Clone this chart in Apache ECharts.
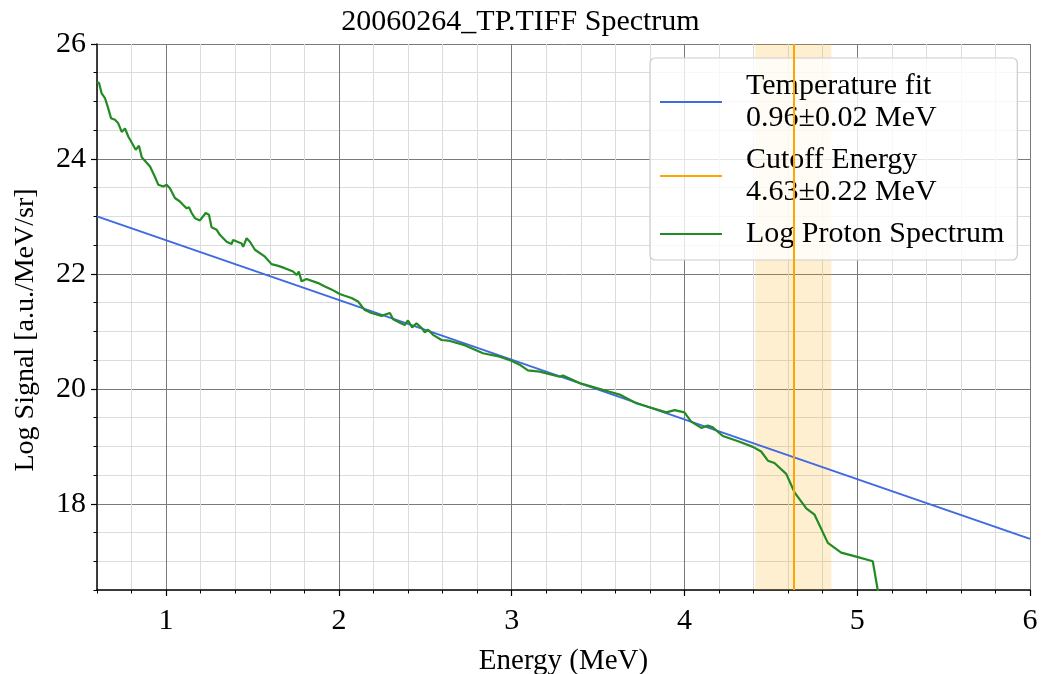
<!DOCTYPE html>
<html><head><meta charset="utf-8">
<script src="https://cdn.jsdelivr.net/npm/echarts@6/dist/echarts.min.js"></script>
<style>html,body{margin:0;padding:0;background:#fff}#c{width:1041px;height:674px}</style>
</head><body><div id="c"></div>
<script>
const energy = [
  0.600,0.612,0.627,0.646,0.665,0.681,0.704,0.723,0.743,0.762,
  0.781,0.804,0.824,0.843,0.859,0.907,0.935,0.955,0.984,1.003,
  1.022,1.051,1.080,1.099,1.119,1.132,1.148,1.167,1.196,1.229,
  1.248,1.263,1.292,1.311,1.350,1.359,1.379,1.388,1.437,1.446,
  1.466,1.485,1.514,1.572,1.610,1.649,1.687,1.735,1.745,1.755,
  1.768,1.784,1.813,1.880,1.919,1.957,2.005,2.034,2.073,2.111,
  2.150,2.189,2.247,2.295,2.314,2.353,2.381,2.400,2.424,2.449,
  2.482,2.497,2.516,2.545,2.594,2.632,2.728,2.834,2.931,2.998,
  3.046,3.094,3.162,3.278,3.297,3.393,3.567,3.625,3.721,3.895,
  3.943,4.000,4.039,4.097,4.135,4.164,4.222,4.319,4.396,4.444,
  4.483,4.521,4.589,4.637,4.705,4.753,4.830,4.907,4.994,5.090,
  5.136];
const signal = [
  25.34,25.32,25.14,25.06,24.88,24.71,24.68,24.62,24.47,24.53,
  24.39,24.27,24.16,24.23,24.03,23.87,23.69,23.55,23.52,23.55,
  23.49,23.32,23.26,23.20,23.14,23.16,23.06,22.97,22.93,23.06,
  23.03,22.81,22.77,22.68,22.56,22.59,22.52,22.59,22.53,22.47,
  22.62,22.56,22.42,22.30,22.17,22.14,22.10,22.04,22.07,21.98,
  22.04,21.87,21.91,21.84,21.78,21.73,21.65,21.62,21.58,21.52,
  21.37,21.32,21.27,21.32,21.21,21.15,21.11,21.19,21.07,21.14,
  21.05,20.98,21.03,20.94,20.85,20.84,20.76,20.62,20.56,20.49,
  20.42,20.32,20.30,20.21,20.23,20.10,19.95,19.90,19.75,19.59,
  19.63,19.59,19.43,19.32,19.36,19.33,19.18,19.08,18.99,18.91,
  18.75,18.71,18.52,18.20,17.92,17.81,17.32,17.15,17.08,17.00,
  16.20];
const fitEnergy = [0.6, 6.0];
const fitSignal = [23.0, 17.39];
const cutoff = 4.63, cutoffErr = 0.22;
const xMajor = [1,2,3,4,5,6];
const xMinor = [0.6,0.8,1.2,1.4,1.6,1.8,2.2,2.4,2.6,2.8,3.2,3.4,3.6,3.8,4.2,4.4,4.6,4.8,5.2,5.4,5.6,5.8];
const yMajor = [18,20,22,24,26];
const yMinor = [16.5,17,17.5,18.5,19,19.5,20.5,21,21.5,22.5,23,23.5,24.5,25,25.5];
const names = ['Temperature fit\n0.96±0.02 MeV','Cutoff Energy\n4.63±0.22 MeV','Log Proton Spectrum'];

const FONT = 'Liberation Serif';
const X0 = 0.6, X1 = 6, Y0 = 16.5, Y1 = 26;
const chart = echarts.init(document.getElementById('c'), null, {renderer:'canvas'});
const spec = energy.map((e,i)=>[e, signal[i]]);
const fit = fitEnergy.map((e,i)=>[e, fitSignal[i]]);
function majorAxis(pos, ticks, extra){
  return Object.assign({
    type:'value', position:pos, min: pos==='bottom'?X0:Y0, max: pos==='bottom'?X1:Y1,
    axisLine:{show:true, onZero:false, lineStyle:{color:'#000', width:1.5}},
    axisTick:{show:true, customValues:ticks, length:6, lineStyle:{color:'#000', width:1.2}},
    axisLabel:{customValues:ticks, fontFamily:FONT, fontSize:30, color:'#000', margin: pos==='bottom'?16:11},
    splitLine:{show:true, lineStyle:{color:'#7a7a7a', width:1}},
    nameTextStyle:{fontFamily:FONT, fontSize:29, color:'#000'}
  }, extra);
}
function minorAxis(pos, ticks){
  return {
    type:'value', position:pos, min: pos==='bottom'?X0:Y0, max: pos==='bottom'?X1:Y1,
    axisLine:{show:false, onZero:false},
    axisTick:{show:true, customValues:ticks, length:3.5, lineStyle:{color:'#000', width:1}},
    axisLabel:{show:false, customValues:ticks},
    splitLine:{show:true, lineStyle:{color:'#dcdcdc', width:1}}
  };
}
chart.setOption({
  animation:false,
  backgroundColor:'#fff',
  title:{text:'20060264_TP.TIFF Spectrum', left:'center', top:2,
    textStyle:{fontFamily:FONT, fontSize:30, fontWeight:'normal', color:'#000'}},
  grid:{left:97, right:11, top:44, bottom:84, containLabel:false, outerBoundsMode:'none'},
  xAxis:[
    minorAxis('bottom', xMinor),
    majorAxis('bottom', xMajor, {name:'Energy (MeV)', nameLocation:'middle', nameGap:57})
  ],
  yAxis:[
    minorAxis('left', yMinor),
    majorAxis('left', yMajor, {name:'Log Signal [a.u./MeV/sr]', nameLocation:'middle', nameGap:57,
      nameTextStyle:{fontFamily:FONT, fontSize:28, color:'#000', padding:[0,26,0,0]}})
  ],
  legend:{
    orient:'vertical', left:650, top:58,
    data:names,
    icon:'rect', itemWidth:62, itemHeight:2, itemGap:10,
    padding:[12,13,10,10],
    backgroundColor:'rgba(255,255,255,0.8)', borderColor:'#cccccc', borderWidth:1.2, borderRadius:5,
    textStyle:{fontFamily:FONT, fontSize:30, color:'#000', lineHeight:32, padding:[0,0,0,19]},
  },
  series:[
    {name:names[0], type:'line', xAxisIndex:1, yAxisIndex:1, data:fit, showSymbol:false, symbol:'none',
      lineStyle:{color:'#4169E1', width:2}, itemStyle:{color:'#4169E1'}, z:3},
    {name:names[1], type:'line', xAxisIndex:1, yAxisIndex:1, data:[], symbol:'none',
      lineStyle:{color:'#FFA500', width:2}, itemStyle:{color:'#FFA500'}, z:2,
      markArea:{silent:true, itemStyle:{color:'rgba(255,165,0,0.18)'},
        data:[[{xAxis:cutoff-cutoffErr},{xAxis:cutoff+cutoffErr}]]},
      markLine:{silent:true, symbol:'none', label:{show:false},
        lineStyle:{color:'#FFA500', width:2, type:'solid'}, data:[{xAxis:cutoff}]}},
    {name:names[2], type:'line', xAxisIndex:1, yAxisIndex:1, data:spec, showSymbol:false, symbol:'none', clip:true,
      lineStyle:{color:'#228B22', width:2.2}, itemStyle:{color:'#228B22'}, z:4}
  ]
});
</script></body></html>
